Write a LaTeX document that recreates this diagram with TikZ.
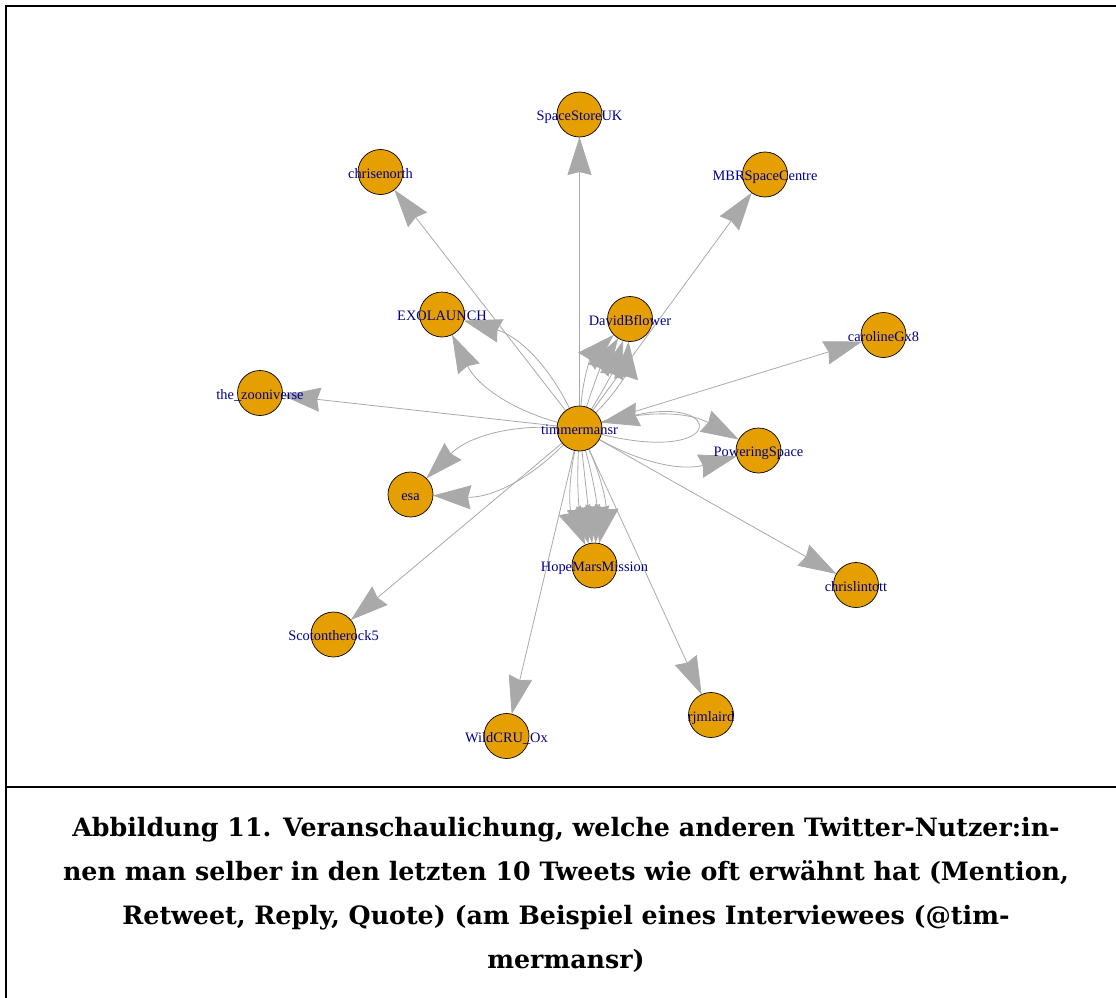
\documentclass[tikz,border=0pt]{standalone}
\usepackage{fontspec}
\setmainfont{Liberation Serif}
\newfontfamily\capfont{DejaVu Serif}
\usetikzlibrary{arrows.meta,backgrounds}
\definecolor{edgegray}{HTML}{A9A9A9}
\definecolor{vorange}{HTML}{E69F00}
\definecolor{lblue}{HTML}{00008B}
\tikzset{
  vert/.style={circle, draw=black, line width=0.7pt, fill=vorange, minimum size=45pt, inner sep=0pt, outer sep=0pt,
    text=lblue, font=\fontsize{14.4}{14.4}\selectfont, text height=12.5pt, text depth=0pt},
  edge/.style={draw=edgegray, line width=0.8pt, -{Stealth[length=38pt,width=24pt,inset=3pt,fill=edgegray]}},
  frame/.style={line width=2pt, draw=black},
  captxt/.style={anchor=base, font=\capfont\bfseries\fontsize{25.3}{25.3}\selectfont, inner sep=0pt}
}
\begin{document}
\begin{tikzpicture}[x=1pt,y=-1pt]
\useasboundingbox (0,0) rectangle (1116,998);
% frame
\draw[frame] (6,998) -- (6,6) -- (1116,6);
\draw[frame] (6,787) -- (1116,787);
% vertices
\node[vert] (tim) at (579.5,428.5) {\makebox[0pt]{timmermansr}};
\node[vert] (ssuk) at (579.5,114.5) {\makebox[0pt]{SpaceStoreUK}};
\node[vert] (cen) at (380.5,172) {\makebox[0pt]{chrisenorth}};
\node[vert] (mbr) at (765,174.5) {\makebox[0pt]{MBRSpaceCentre}};
\node[vert] (car) at (883.5,335) {\makebox[0pt]{carolineGx8}};
\node[vert] (exo) at (442,314.5) {\makebox[0pt]{EXOLAUNCH}};
\node[vert] (dbf) at (630,319) {\makebox[0pt]{DavidBflower}};
\node[vert] (zoo) at (260,393) {\makebox[0pt]{the\_zooniverse}};
\node[vert] (pws) at (758.5,450.5) {\makebox[0pt]{PoweringSpace}};
\node[vert] (esa) at (410.5,494.5) {\makebox[0pt]{esa}};
\node[vert] (hmm) at (594.5,565.5) {\makebox[0pt]{HopeMarsMission}};
\node[vert] (cli) at (856,585) {\makebox[0pt]{chrislintott}};
\node[vert] (sco) at (333.5,634.5) {\makebox[0pt]{Scotontherock5}};
\node[vert] (rjm) at (711,715) {\makebox[0pt]{rjmlaird}};
\node[vert] (wcu) at (506.5,736) {\makebox[0pt]{WildCRU\_Ox}};
% edges
\begin{scope}[on background layer]
\draw[edge] (tim) -- (ssuk);
\draw[edge] (tim) -- (cen);
\draw[edge] (tim) -- (mbr);
\draw[edge] (tim) -- (car);
\draw[edge] (tim) -- (zoo);
\draw[edge] (tim) -- (sco);
\draw[edge] (tim) -- (wcu);
\draw[edge] (tim) -- (rjm);
\draw[edge] (tim) -- (cli);
\draw[edge] (tim) to[bend left=24] (exo);
\draw[edge] (tim) to[bend right=24] (exo);
\draw[edge] (tim) to[bend left=24] (esa);
\draw[edge] (tim) to[bend right=24] (esa);
\draw[edge] (tim) to[bend left=22] (pws);
\draw[edge] (tim) to[bend right=22] (pws);
\draw[edge] (tim) to[bend left=21] (dbf);
\draw[edge] (tim) to[bend left=7] (dbf);
\draw[edge] (tim) to[bend right=7] (dbf);
\draw[edge] (tim) to[bend right=21] (dbf);
\draw[edge] (tim) to[bend left=18] (hmm);
\draw[edge] (tim) to[bend left=9] (hmm);
\draw[edge] (tim) -- (hmm);
\draw[edge] (tim) to[bend right=9] (hmm);
\draw[edge] (tim) to[bend right=18] (hmm);
\draw[edge] (tim.-15) .. controls (726,465) and (726,395) .. (tim.15);
\end{scope}
% caption
\node[captxt] (cap1) at (566,836) {Abbildung 11. Veranschaulichung, welche anderen Twitter-Nutzer:in-};
\node[captxt] (cap2) at (566,880) {nen man selber in den letzten 10 Tweets wie oft erwähnt hat (Mention,};
\node[captxt] (cap3) at (566,924) {Retweet, Reply, Quote) (am Beispiel eines Interviewees (@tim-};
\node[captxt] (cap4) at (566,968) {mermansr)};
\end{tikzpicture}
\end{document}
